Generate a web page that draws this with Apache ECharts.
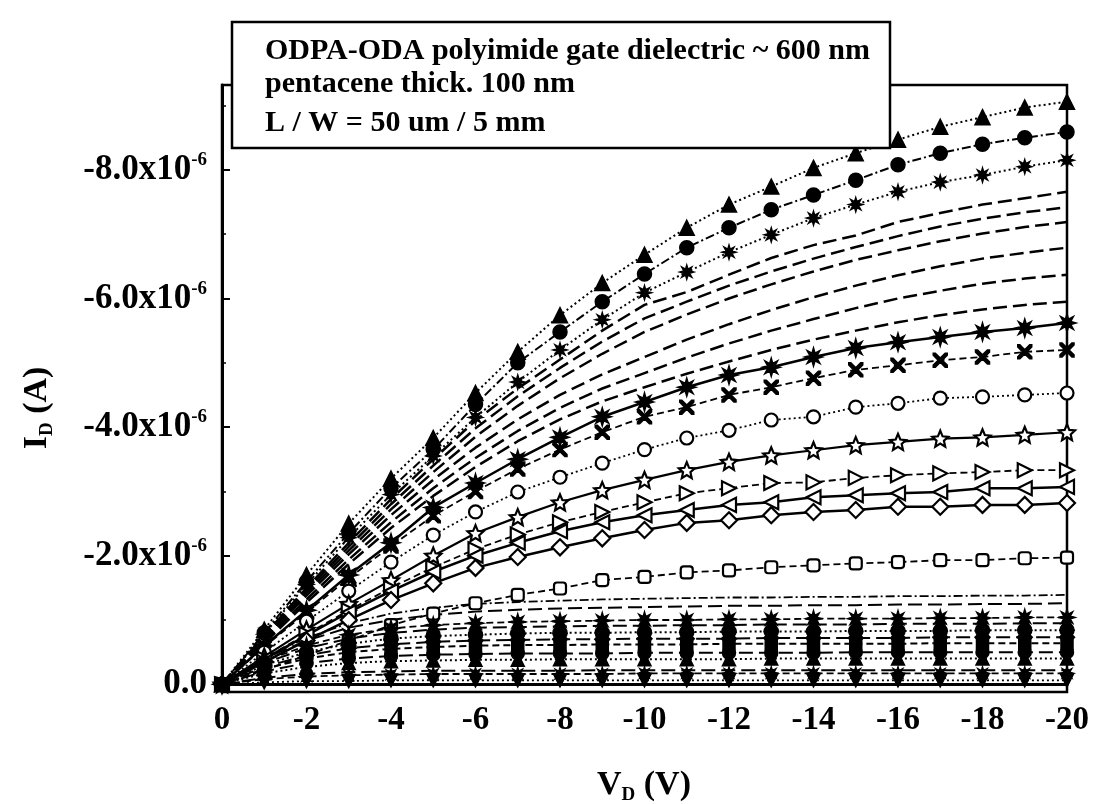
<!DOCTYPE html>
<html>
<head>
<meta charset="utf-8">
<title>Pentacene TFT output curves</title>
<script src="https://cdn.jsdelivr.net/npm/echarts@6/dist/echarts.min.js"></script>
<style>
  html, body { margin: 0; padding: 0; background: #fff; }
  #chart { width: 1096px; height: 804px; }
</style>
</head>
<body>
<div id="chart"></div>
<script>
// drain voltage (V)
const vd = [0, -1, -2, -3, -4, -5, -6, -7, -8, -9, -10, -11, -12, -13, -14, -15, -16, -17, -18, -19, -20]

// |I_D| in uA
const triUp = [0, 0.85, 1.70, 2.50, 3.20, 3.83, 4.53, 5.17, 5.74, 6.24, 6.68, 7.10, 7.46, 7.74, 8.03, 8.26, 8.47, 8.67, 8.82, 8.97, 9.06]
const dotFilled = [0, 0.80, 1.60, 2.35, 3.05, 3.65, 4.35, 5.00, 5.48, 5.95, 6.38, 6.79, 7.10, 7.38, 7.61, 7.84, 8.08, 8.26, 8.40, 8.50, 8.59]
const sqFilled = [0, 0.78, 1.55, 2.28, 2.95, 3.55, 4.15, 4.70, 5.20, 5.67, 6.09, 6.41, 6.72, 6.99, 7.25, 7.46, 7.66, 7.81, 7.92, 8.05, 8.15]
const dash1 = [0, 0.76, 1.50, 2.20, 2.88, 3.50, 4.10, 4.60, 5.05, 5.50, 5.90, 6.10, 6.37, 6.63, 6.83, 6.98, 7.19, 7.33, 7.46, 7.56, 7.66]
const dash2 = [0, 0.74, 1.46, 2.14, 2.80, 3.40, 3.98, 4.48, 4.92, 5.33, 5.69, 5.95, 6.20, 6.42, 6.62, 6.80, 6.97, 7.12, 7.24, 7.34, 7.42]
const dash3 = [0, 0.72, 1.42, 2.08, 2.72, 3.30, 3.85, 4.33, 4.76, 5.14, 5.48, 5.75, 6.00, 6.22, 6.42, 6.60, 6.75, 6.89, 7.01, 7.11, 7.19]
const dash4 = [0, 0.70, 1.38, 2.02, 2.63, 3.18, 3.68, 4.12, 4.50, 4.82, 5.09, 5.36, 5.60, 5.82, 6.02, 6.20, 6.36, 6.50, 6.62, 6.71, 6.79]
const dash5 = [0, 0.67, 1.32, 1.94, 2.52, 3.05, 3.52, 3.94, 4.30, 4.60, 4.84, 5.08, 5.30, 5.50, 5.68, 5.85, 6.00, 6.12, 6.23, 6.31, 6.37]
const dash6 = [0, 0.64, 1.27, 1.87, 2.43, 2.93, 3.38, 3.78, 4.12, 4.40, 4.62, 4.83, 5.02, 5.20, 5.36, 5.50, 5.63, 5.74, 5.83, 5.90, 5.95]
const burst = [0, 0.60, 1.15, 1.70, 2.20, 2.75, 3.13, 3.50, 3.84, 4.16, 4.39, 4.62, 4.81, 4.93, 5.09, 5.23, 5.32, 5.40, 5.48, 5.54, 5.62]
const cross = [0, 0.58, 1.12, 1.65, 2.15, 2.62, 3.00, 3.35, 3.65, 3.92, 4.16, 4.31, 4.50, 4.62, 4.76, 4.89, 4.96, 5.04, 5.09, 5.17, 5.20]
const ring = [0, 0.50, 0.98, 1.45, 1.90, 2.32, 2.68, 2.99, 3.22, 3.44, 3.65, 3.83, 3.95, 4.11, 4.16, 4.31, 4.37, 4.45, 4.47, 4.50, 4.53]
const star = [0, 0.43, 0.85, 1.25, 1.62, 2.00, 2.35, 2.60, 2.83, 3.02, 3.18, 3.33, 3.46, 3.56, 3.64, 3.72, 3.77, 3.82, 3.84, 3.88, 3.92]
const triRight = [0, 0.40, 0.78, 1.15, 1.50, 1.82, 2.10, 2.33, 2.52, 2.68, 2.83, 2.97, 3.05, 3.13, 3.14, 3.21, 3.25, 3.28, 3.30, 3.33, 3.33]
const triLeft = [0, 0.39, 0.76, 1.12, 1.45, 1.75, 2.00, 2.20, 2.38, 2.52, 2.63, 2.71, 2.79, 2.83, 2.91, 2.94, 2.97, 2.99, 3.05, 3.05, 3.07]
const diamond = [0, 0.35, 0.68, 1.00, 1.31, 1.57, 1.81, 1.98, 2.13, 2.27, 2.40, 2.51, 2.55, 2.63, 2.68, 2.71, 2.76, 2.76, 2.79, 2.79, 2.82]
const square = [0, 0.22, 0.45, 0.68, 0.92, 1.10, 1.26, 1.39, 1.49, 1.62, 1.67, 1.74, 1.77, 1.82, 1.85, 1.88, 1.90, 1.93, 1.93, 1.96, 1.97]
// low-gate curves, the dense band near the bottom
const low1 = [0, 0.42, 0.72, 0.95, 1.10, 1.19, 1.25, 1.28, 1.30, 1.32, 1.33, 1.34, 1.35, 1.35, 1.36, 1.36, 1.37, 1.37, 1.38, 1.38, 1.39]
const low2 = [0, 0.40, 0.68, 0.88, 1.00, 1.08, 1.13, 1.16, 1.18, 1.19, 1.20, 1.21, 1.22, 1.22, 1.23, 1.23, 1.24, 1.24, 1.25, 1.25, 1.26]
const low3 = [0, 0.36, 0.60, 0.77, 0.87, 0.92, 0.95, 0.97, 0.98, 0.99, 1.00, 1.00, 1.01, 1.01, 1.02, 1.02, 1.02, 1.03, 1.03, 1.04, 1.04]
const low4 = [0, 0.33, 0.56, 0.71, 0.80, 0.85, 0.88, 0.89, 0.90, 0.91, 0.91, 0.92, 0.92, 0.93, 0.93, 0.93, 0.94, 0.94, 0.94, 0.95, 0.95]
const low5 = [0, 0.30, 0.50, 0.63, 0.71, 0.75, 0.77, 0.79, 0.80, 0.80, 0.81, 0.81, 0.82, 0.82, 0.82, 0.83, 0.83, 0.83, 0.84, 0.84, 0.84]
const low6 = [0, 0.27, 0.45, 0.56, 0.62, 0.66, 0.68, 0.69, 0.70, 0.70, 0.71, 0.71, 0.71, 0.72, 0.72, 0.72, 0.72, 0.73, 0.73, 0.73, 0.73]
const low7 = [0, 0.24, 0.40, 0.50, 0.55, 0.58, 0.60, 0.61, 0.61, 0.62, 0.62, 0.62, 0.63, 0.63, 0.63, 0.63, 0.63, 0.64, 0.64, 0.64, 0.64]
const low8 = [0, 0.20, 0.33, 0.40, 0.44, 0.46, 0.47, 0.48, 0.48, 0.48, 0.49, 0.49, 0.49, 0.49, 0.49, 0.50, 0.50, 0.50, 0.50, 0.50, 0.50]
const low9 = [0, 0.17, 0.27, 0.33, 0.36, 0.37, 0.38, 0.38, 0.39, 0.39, 0.39, 0.39, 0.39, 0.40, 0.40, 0.40, 0.40, 0.40, 0.40, 0.40, 0.40]
const low10 = [0, 0.10, 0.16, 0.19, 0.20, 0.21, 0.21, 0.21, 0.21, 0.22, 0.22, 0.22, 0.22, 0.22, 0.22, 0.22, 0.22, 0.22, 0.22, 0.22, 0.22]
const low11 = [0, 0.08, 0.12, 0.14, 0.15, 0.16, 0.16, 0.16, 0.16, 0.16, 0.17, 0.17, 0.17, 0.17, 0.17, 0.17, 0.17, 0.17, 0.17, 0.17, 0.17]
const low12 = [0, 0.03, 0.05, 0.05, 0.06, 0.06, 0.06, 0.06, 0.06, 0.06, 0.06, 0.06, 0.06, 0.06, 0.06, 0.06, 0.06, 0.06, 0.06, 0.06, 0.06]

const yMajor = [0, -2, -4, -6, -8]
const yMinor = [-1, -3, -5, -7, -9]
const noteLines = [
  'ODPA-ODA polyimide gate dielectric ~ 600 nm',
  'pentacene thick. 100 nm',
  'L / W = 50 um / 5 mm'
]

const SERIF = '"Liberation Serif", "DejaVu Serif", serif'

const STAR5 = 'path://M10,0 L12.9,6.9 L20,7.6 L14.6,12.3 L16.2,19.5 L10,15.7 L3.8,19.5 L5.4,12.3 L0,7.6 L7.1,6.9 Z'
const BURST = 'path://M10,0 L11.7,5.8 L17.07,2.93 L14.16,8.28 L20,10 L14.16,11.72 L17.07,17.07 L11.72,14.16 L10,20 L8.28,14.16 L2.93,17.07 L5.84,11.72 L0,10 L5.84,8.28 L2.93,2.93 L8.28,5.84 Z'
const XMARK = 'path://M0,0 L3,0 L10,7 L17,0 L20,0 L20,3 L13,10 L20,17 L20,20 L17,20 L10,13 L3,20 L0,20 L0,17 L7,10 L0,3 Z'

const DOT = [2, 3]
const DASHDOT = [9, 3, 2, 3]
const LONG = [14, 6]
const MID = [7, 4]

// one curve: values are |I_D| in uA, plotted as negative current
const curve = (vals, symbol, size, lineType, width, extra) => Object.assign({
  type: 'line',
  data: vd.map((v, i) => [v, -vals[i]]),
  symbol: symbol,
  symbolSize: size,
  showSymbol: symbol !== 'none',
  lineStyle: { color: '#000', width: width, type: lineType },
  itemStyle: { color: '#000', borderColor: '#000', borderWidth: 1.5 },
  emphasis: { disabled: true },
  animation: false,
  clip: true
}, extra || {})

const openStyle = { itemStyle: { color: '#fff', borderColor: '#000', borderWidth: 2.2 } }

const series = [
  curve(triUp, 'triangle', 15, DOT, 2),
  curve(dotFilled, 'circle', 14, DASHDOT, 2),
  curve(sqFilled, BURST, 14, DOT, 2),
  curve(dash1, 'none', 0, LONG, 2.5),
  curve(dash2, 'none', 0, LONG, 2.5),
  curve(dash3, 'none', 0, LONG, 2.5),
  curve(dash4, 'none', 0, LONG, 2.5),
  curve(dash5, 'none', 0, LONG, 2.5),
  curve(dash6, 'none', 0, LONG, 2.5),
  curve(burst, BURST, 18, 'solid', 2.5),
  curve(cross, XMARK, 14, MID, 1.8),
  curve(ring, 'circle', 13, DOT, 1.8, openStyle),
  curve(star, STAR5, 16, 'solid', 2.2, openStyle),
  curve(triRight, 'triangle', 14, MID, 1.8, Object.assign({ symbolRotate: -90 }, openStyle)),
  curve(triLeft, 'triangle', 14, 'solid', 2.5, Object.assign({ symbolRotate: 90 }, openStyle)),
  curve(diamond, 'diamond', 16, 'solid', 2.5, openStyle),
  curve(square, 'roundRect', 12, MID, 1.8, openStyle),
  curve(low1, 'none', 0, DASHDOT, 1.8),
  curve(low2, 'none', 0, LONG, 2),
  curve(low3, BURST, 16, MID, 1.8),
  curve(low4, 'triangle', 14, LONG, 2),
  curve(low5, 'circle', 14, DOT, 2),
  curve(low6, 'diamond', 15, LONG, 2),
  curve(low7, 'rect', 12, MID, 2),
  curve(low8, 'circle', 13, LONG, 2),
  curve(low9, 'triangle', 13, DOT, 2),
  curve(low10, 'none', 0, LONG, 2),
  curve(low11, BURST, 13, MID, 1.8),
  curve(low12, 'triangle', 13, DOT, 1.8, { symbolRotate: 180 })
]

const chart = echarts.init(document.getElementById('chart'))

chart.setOption({
  backgroundColor: '#fff',
  animation: false,
  grid: {
    left: 222,
    right: 29,
    top: 85,
    bottom: 112,
    show: true,
    borderColor: '#000',
    borderWidth: 2.5,
    backgroundColor: 'transparent'
  },
  xAxis: {
    type: 'value',
    min: -20,
    max: 0,
    interval: 2,
    inverse: true,
    axisLine: { lineStyle: { color: '#000', width: 3 } },
    axisTick: { inside: true, length: 8, lineStyle: { color: '#000', width: 2 } },
    minorTick: { show: true, splitNumber: 2, length: 4, lineStyle: { color: '#000', width: 1.5 } },
    splitLine: { show: false },
    axisLabel: {
      margin: 12,
      color: '#000',
      fontFamily: SERIF,
      fontWeight: 'bold',
      fontSize: 33,
      formatter: v => String(v)
    }
  },
  yAxis: [
    {
      type: 'value',
      min: -9.32,
      max: 0.12,
      inverse: true,
      axisLine: { lineStyle: { color: '#000', width: 3 } },
      axisTick: { inside: true, length: 8, customValues: yMajor, lineStyle: { color: '#000', width: 2 } },
      splitLine: { show: false },
      axisLabel: {
        margin: 15,
        customValues: yMajor,
        formatter: v => v === 0 ? '{a|0.0}' : '{a|' + v.toFixed(1) + 'x10}{s|-6}',
        rich: {
          a: { fontFamily: SERIF, fontWeight: 'bold', fontSize: 35, color: '#000', lineHeight: 38 },
          s: { fontFamily: SERIF, fontWeight: 'bold', fontSize: 19, color: '#000', verticalAlign: 'top', lineHeight: 18 }
        }
      }
    },
    {
      type: 'value',
      min: -9.32,
      max: 0.12,
      inverse: true,
      position: 'left',
      axisLine: { show: false },
      axisTick: { inside: true, length: 4, customValues: yMinor, lineStyle: { color: '#000', width: 1.5 } },
      axisLabel: { show: false },
      splitLine: { show: false }
    }
  ],
  series: series,
  graphic: [
    {
      type: 'rect',
      z: 100,
      shape: { x: 232, y: 22, width: 658, height: 126 },
      style: { fill: '#fff', stroke: '#000', lineWidth: 2.5 }
    },
    {
      type: 'text', z: 101, x: 265, y: 51,
      style: { text: noteLines[0], fill: '#000', font: 'bold 30px ' + SERIF, align: 'left', verticalAlign: 'middle' }
    },
    {
      type: 'text', z: 101, x: 265, y: 84,
      style: { text: noteLines[1], fill: '#000', font: 'bold 30px ' + SERIF, align: 'left', verticalAlign: 'middle' }
    },
    {
      type: 'text', z: 101, x: 265, y: 123,
      style: { text: noteLines[2], fill: '#000', font: 'bold 30px ' + SERIF, align: 'left', verticalAlign: 'middle' }
    },
    {
      // x axis title V_D (V)
      type: 'text', z: 101, x: 644, y: 785,
      style: {
        text: '{b|V}{d|D}{b| (V)}',
        align: 'center', verticalAlign: 'middle',
        rich: {
          b: { fontFamily: SERIF, fontWeight: 'bold', fontSize: 34, fill: '#000', lineHeight: 40 },
          d: { fontFamily: SERIF, fontWeight: 'bold', fontSize: 19, fill: '#000', verticalAlign: 'bottom', lineHeight: 20 }
        }
      }
    },
    {
      // y axis title I_D (A)
      type: 'text', z: 101, x: 37, y: 408, rotation: Math.PI / 2,
      style: {
        text: '{b|I}{d|D}{b| (A)}',
        align: 'center', verticalAlign: 'middle',
        rich: {
          b: { fontFamily: SERIF, fontWeight: 'bold', fontSize: 34, fill: '#000', lineHeight: 40 },
          d: { fontFamily: SERIF, fontWeight: 'bold', fontSize: 19, fill: '#000', verticalAlign: 'bottom', lineHeight: 20 }
        }
      }
    }
  ]
})

window.addEventListener('resize', () => chart.resize())
</script>
</body>
</html>
